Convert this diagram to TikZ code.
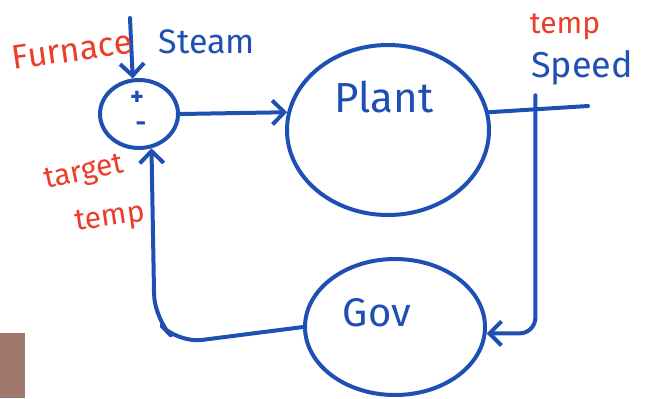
\documentclass[tikz,border=0pt]{standalone}
\usepackage{fontspec}
\setmainfont{Fira Sans}
\usepackage{tikz}
\usetikzlibrary{positioning, calc, arrows.meta, shapes.geometric}
\definecolor{inkblue}{RGB}{30,80,180}
\definecolor{inkred}{RGB}{235,62,40}
\definecolor{tabbrown}{RGB}{160,120,108}
\tikzset{
  blob/.style={
    draw=inkblue, ellipse, line width=2pt, inner sep=0pt
  },
  wire/.style={draw=inkblue, line width=2pt, line cap=round, line join=round},
  flow/.style={wire, -{Straight Barb[length=6pt, width=12pt, line width=2pt]}},
  % blue and red hand notes
  bluenote/.style={text=inkblue, inner sep=1pt, font=\fontsize{17pt}{19pt}\selectfont},
  rednote/.style={text=inkred, inner sep=1pt, font=\fontsize{17pt}{19pt}\selectfont},
  sign/.style={text=inkblue, inner sep=0pt, font=\fontsize{13pt}{14pt}\selectfont\bfseries},
}

\begin{document}
\begin{tikzpicture}[x=0.5pt, y=-0.5pt]
\useasboundingbox (0,0) rectangle (647,398);

%% ── blocks of the loop ────────────────────────────────────────────
\node[blob, minimum width=39pt, minimum height=34pt] (sum) at (139,114) {};
\node[blob, minimum width=101pt, minimum height=85pt] (plant) at (388,130) {};
\node[blob, minimum width=90pt, minimum height=68pt] (gov) at (395,327) {};

\node[sign] (plus) at ([shift={(-2,-16)}]sum.center) {+};
\node[sign] (minus) at ([shift={(2,13)}]sum.center) {-};
\node[bluenote, font=\fontsize{21pt}{23pt}\selectfont] (plantname) at ([shift={(-4,-33)}]plant.center) {Plant};
\node[bluenote, font=\fontsize{20pt}{22pt}\selectfont] (govname) at ([shift={(-18,-14)}]gov.center) {Gov};

%% ── free ends ─────────────────────────────────────────────────────
\coordinate (furnin) at (130,18);
\coordinate (outend) at (588,106);
\coordinate (tap) at ($(plant.10)!0.47!(outend)$);

%% ── connectors ────────────────────────────────────────────────────
\draw[flow] (furnin) -- (sum.100);
\draw[flow] (sum.east) -- (plant.170);
\draw[wire] (plant.10) -- (outend);
\draw[flow, rounded corners=8pt] ([yshift=7pt]tap) |- (gov.-4);
\draw[flow, rounded corners=12pt] (gov.west) -- ++(-125,16)
  -- ($(sum.-70)+(3,170)$) -- (sum.-70);

%% ── labels ────────────────────────────────────────────────────────
\node[rednote, rotate=8] (furnace) at (72,50) {Furnace};
\node[bluenote] (steam) at (207,42) {Steam};
\node[rednote, font=\fontsize{15pt}{17pt}\selectfont] (outtemp) at (565,27) {temp};
\node[bluenote, font=\fontsize{18pt}{20pt}\selectfont] (speed) at (582,68) {Speed};
\node[rednote, rotate=12, font=\fontsize{15pt}{17pt}\selectfont] (target) at (84,174) {target};
\node[rednote, rotate=8, font=\fontsize{15pt}{17pt}\selectfont] (targettemp) at (110,219) {temp};

%% ── corner tab ────────────────────────────────────────────────────
\fill[tabbrown] (0,333) rectangle (25,398);

\end{tikzpicture}
\end{document}
